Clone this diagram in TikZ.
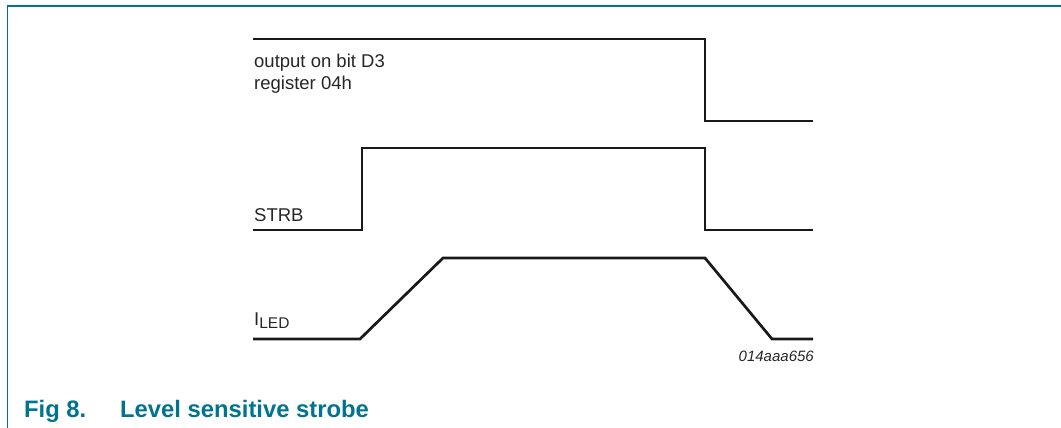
\documentclass[tikz,border=0pt]{standalone}
\usepackage{fontspec}
\setmainfont{Liberation Sans}
\usepackage{tikz}
\definecolor{figteal}{RGB}{0,116,143}
\newcommand{\lbl}{\fontsize{18.5}{22}\selectfont}

\begin{document}
\begin{tikzpicture}[x=1pt,y=-1pt,
  wave/.style={line width=2.7pt,black!90},
  tag/.style={anchor=base west,inner sep=0pt,font=\lbl,black!85}]
    \useasboundingbox (0,0) rectangle (1061,428);
    \draw[figteal,line width=1.4pt] (7.5,428) -- (7.5,6) -- (1061,6);

    % output on bit D3
    \draw[wave] (253,39) -- (705,39) -- (705,121) -- (813,121);
    \node[tag] (out1) at (254,67.5) {output on bit D3};
    \node[tag] (out2) at (254,90) {register 04h};

    % STRB
    \draw[wave] (253,230) -- (362,230) -- (362,148) -- (705,148) -- (705,230) -- (813,230);
    \node[tag] (strb) at (254,221) {STRB};

    % I_LED
    \draw[wave] (253,339) -- (360,339) -- (443,258) -- (705,258) -- (772,339) -- (813,339);
    \node[tag] (iled) at (254,325) {I\raisebox{-3pt}{\fontsize{15.5}{18}\selectfont LED}};

    \node[anchor=base east,inner sep=0pt,font=\fontsize{15}{18}\selectfont\itshape,black!85] (code) at (814,361) {014aaa656};

    \node[anchor=base west,inner sep=0pt,font=\fontsize{23.8}{28}\selectfont\bfseries,figteal] (fig) at (24,417) {Fig 8.};
    \node[anchor=base west,inner sep=0pt,font=\fontsize{23.8}{28}\selectfont\bfseries,figteal] (title) at (120,417) {Level sensitive strobe};
\end{tikzpicture}
\end{document}
